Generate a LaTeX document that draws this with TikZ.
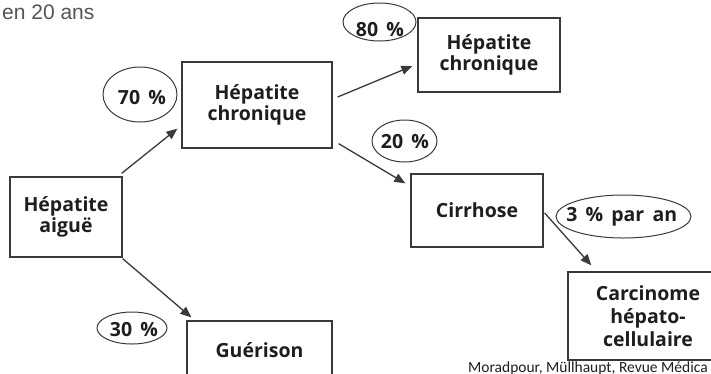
\documentclass[tikz,border=0pt]{standalone}
\usepackage{fontspec}
\setmainfont{Open Sans}
\newfontfamily\arialf{Liberation Sans}
\newfontfamily\calf{Carlito}
\usetikzlibrary{shapes.geometric,arrows.meta}
\definecolor{linec}{HTML}{3A3A3A}
\definecolor{txtc}{HTML}{1E1E1E}
\definecolor{greyt}{HTML}{555555}
\newcommand{\wsp}{\hspace{0.42em}}
\begin{document}
\begin{tikzpicture}[x=1pt,y=-1pt,
  box/.style={draw=linec,line width=1.3pt,rectangle,inner sep=0pt,align=center,
    font=\fontsize{19.5}{21.7}\selectfont\bfseries,text=txtc},
  pct/.style={draw=linec,line width=1pt,ellipse,inner sep=0pt},
  pcttext/.style={font=\fontsize{19.5}{21.7}\selectfont\bfseries,text=txtc,inner sep=0pt},
  arr/.style={draw=linec,line width=1.3pt,-{Triangle[length=11pt,width=9pt]}},
]
\useasboundingbox (0,0) rectangle (711,373);
\clip (0,0) rectangle (711,373);
\fill[white] (0,0) rectangle (711,373);

\node[anchor=base west,font=\arialf\fontsize{21}{24}\selectfont,text=greyt,inner sep=0pt] (title) at (2,19) {en 20 ans};

\node[box,minimum width=112pt,minimum height=80pt] (aigue) at (66,217) {Hépatite\\aiguë};
\node[box,minimum width=150pt,minimum height=86pt] (chron) at (257,105) {Hépatite\\chronique};
\node[box,minimum width=142pt,minimum height=74pt] (chron2) at (489,55) {Hépatite\\chronique};
\node[box,minimum width=132pt,minimum height=73pt] (cirr) at (477,210.5) {Cirrhose};
\node[box,minimum width=160pt,minimum height=88pt,font=\fontsize{19.5}{23}\selectfont\bfseries] (carc) at (648,316) {Carcinome\\hépato-\\cellulaire};
\node[box,minimum width=145pt,minimum height=58pt] (guer) at (259.5,350) {Guérison};

\node[pct,minimum width=74pt,minimum height=55pt] (e70) at (140,94.5) {};
\node[pcttext] (t70) at (142,97.5) {70\wsp\%};
\node[pct,minimum width=73pt,minimum height=38pt] (e80) at (379.5,22) {};
\node[pcttext] (t80) at (380,30) {80\wsp\%};
\node[pct,minimum width=65pt,minimum height=42pt] (e20) at (404.5,141) {};
\node[pcttext] (t20) at (405,141.5) {20\wsp\%};
\node[pct,minimum width=135pt,minimum height=43pt] (e3) at (623.5,216.5) {};
\node[pcttext,anchor=base] (t3) at (621.7,221.7) {3\wsp\%\wsp par\wsp an};
\node[pct,minimum width=70pt,minimum height=32pt] (e30) at (132,328) {};
\node[pcttext] (t30) at (134,330) {30\wsp\%};

\draw[arr] ([shift={(-1,-3)}]aigue.north east) -- ([shift={(-4,-20)}]chron.south west);
\draw[arr] ([shift={(0,1)}]aigue.south east) -- ([shift={(5,-3)}]guer.north west);
\draw[arr] ([shift={(5,-8)}]chron.east) -- ([shift={(-5,11)}]chron2.west);
\draw[arr] ([shift={(6,-5)}]chron.south east) -- ([shift={(-5,10)}]cirr.north west);
\draw[arr] ([shift={(1,2.5)}]cirr.east) -- ([shift={(24,-6)}]carc.north west);

\node[anchor=base west,font=\calf\fontsize{15.5}{17}\selectfont,inner sep=0pt,text=txtc] (src) at (468,372.5) {Moradpour, Müllhaupt, Revue Médica};
\end{tikzpicture}
\end{document}
